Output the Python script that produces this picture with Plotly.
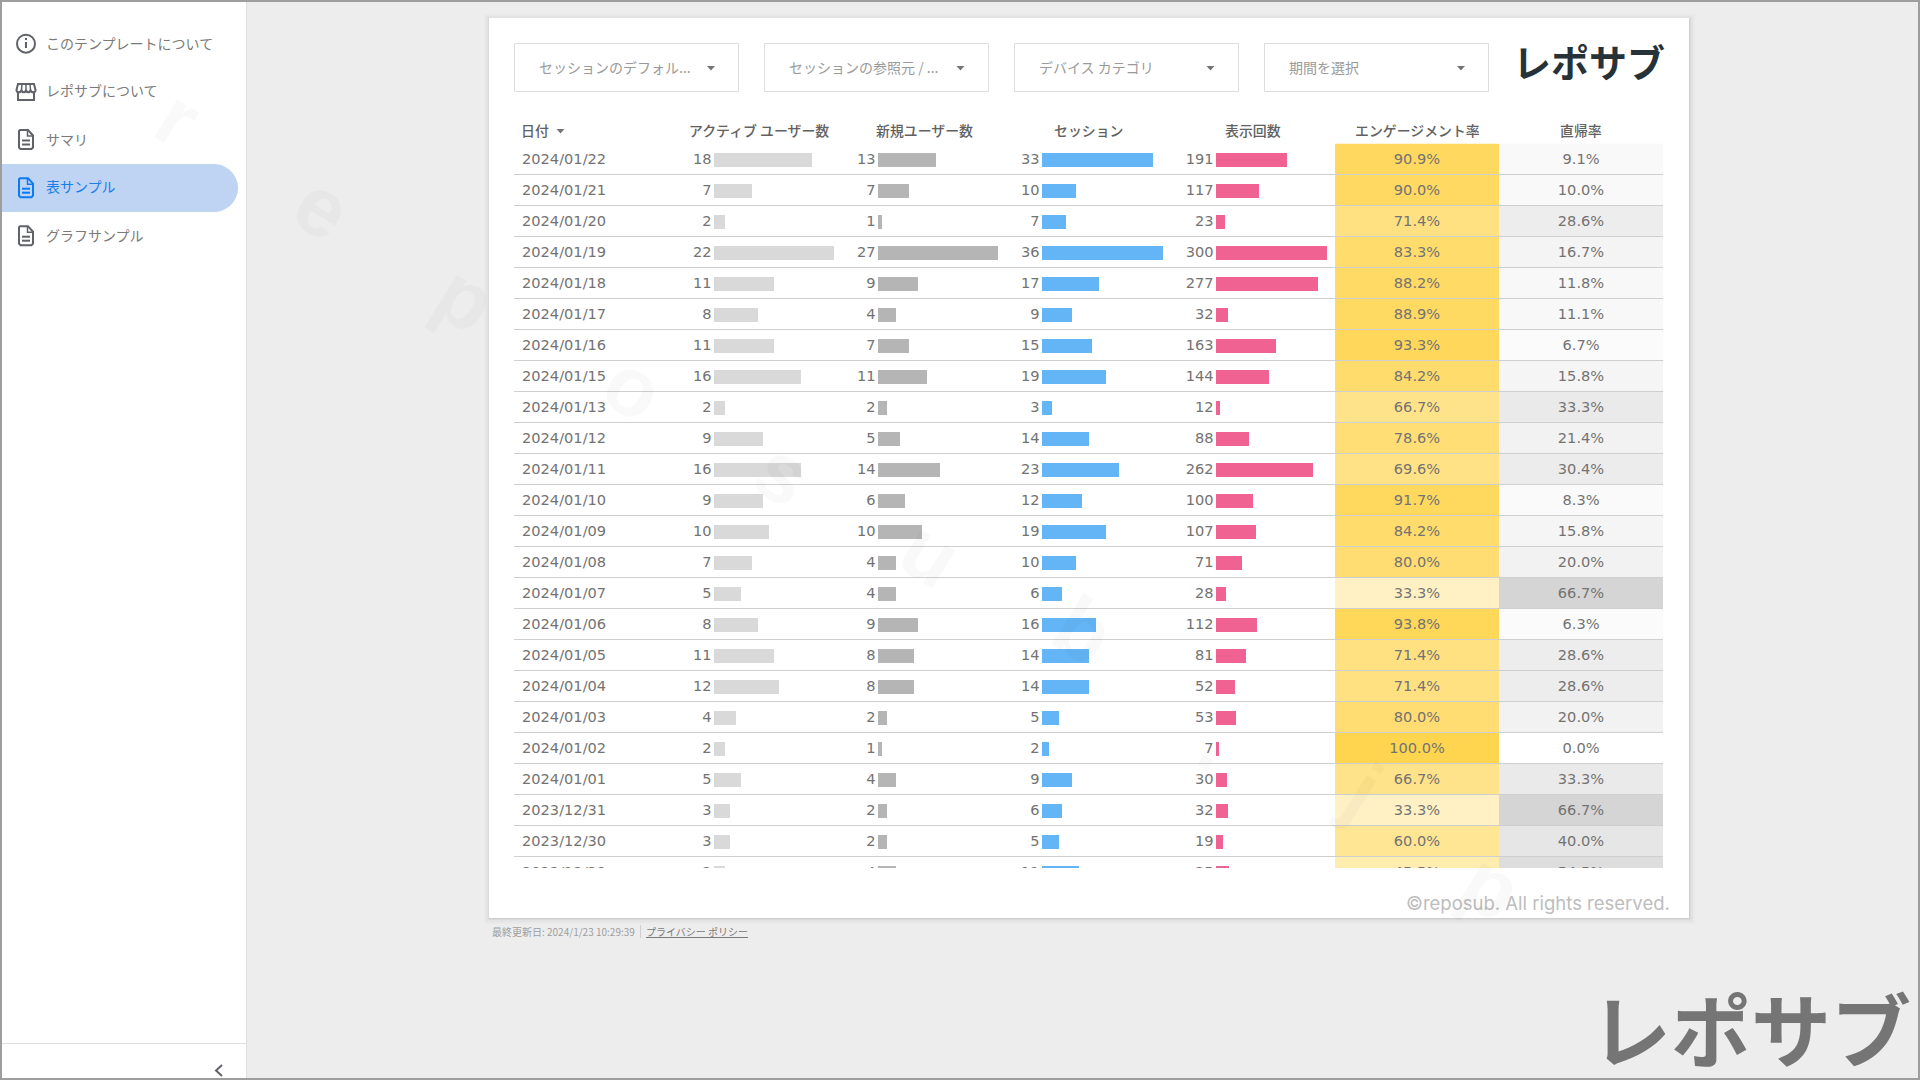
import plotly.graph_objects as go

dates = ['2024/01/22', '2024/01/21', '2024/01/20', '2024/01/19', '2024/01/18', '2024/01/17',
         '2024/01/16', '2024/01/15', '2024/01/13', '2024/01/12', '2024/01/11', '2024/01/10',
         '2024/01/09', '2024/01/08', '2024/01/07', '2024/01/06', '2024/01/05', '2024/01/04',
         '2024/01/03', '2024/01/02', '2024/01/01', '2023/12/31', '2023/12/30', '2023/12/29']
active_users = [18, 7, 2, 22, 11, 8, 11, 16, 2, 9, 16, 9, 10, 7, 5, 8, 11, 12, 4, 2, 5, 3, 3, 2]
new_users = [13, 7, 1, 27, 9, 4, 7, 11, 2, 5, 14, 6, 10, 4, 4, 9, 8, 8, 2, 1, 4, 2, 2, 4]
sessions = [33, 10, 7, 36, 17, 9, 15, 19, 3, 14, 23, 12, 19, 10, 6, 16, 14, 14, 5, 2, 9, 6, 5, 11]
views = [191, 117, 23, 300, 277, 32, 163, 144, 12, 88, 262, 100, 107, 71, 28, 112, 81, 52, 53, 7, 30, 32, 19, 35]
engagement = [90.9, 90.0, 71.4, 83.3, 88.2, 88.9, 93.3, 84.2, 66.7, 78.6, 69.6, 91.7,
              84.2, 80.0, 33.3, 93.8, 71.4, 71.4, 80.0, 100.0, 66.7, 33.3, 60.0, 45.5]
bounce = [9.1, 10.0, 28.6, 16.7, 11.8, 11.1, 6.7, 15.8, 33.3, 21.4, 30.4, 8.3,
          15.8, 20.0, 66.7, 6.3, 28.6, 28.6, 20.0, 0.0, 33.3, 66.7, 40.0, 54.5]

headers = ['日付', 'アクティブ ユーザー数', '新規ユーザー数', 'セッション', '表示回数', 'エンゲージメント率', '直帰率']
menu_items = ['このテンプレートについて', 'レポサブについて', 'サマリ', '表サンプル', 'グラフサンプル']
filters = ['セッションのデフォル...', 'セッションの参照元 / ...', 'デバイス カテゴリ', '期間を選択']

W, H = 1920, 1080
JP = 'Noto Sans CJK JP'
NUM = 'DejaVu Sans'
TXT = '#737373'


def fx(x):
    return x / W


def fy(y):
    return 1 - y / H


def px_path(d):
    # "M 10 20 L 30 40" in screen pixels -> paper coordinates
    out, is_x = [], True
    for tok in d.split():
        if tok.isalpha():
            out.append(tok)
        else:
            v = float(tok)
            out.append(f'{fx(v):.5f}' if is_x else f'{fy(v):.5f}')
            is_x = not is_x
    return ' '.join(out)


shapes = []
annotations = []


def rect(x0, y0, x1, y1, fill='rgba(0,0,0,0)', line=None, width=1, layer='below'):
    shapes.append(dict(type='rect', xref='paper', yref='paper', x0=fx(x0), x1=fx(x1), y0=fy(y1), y1=fy(y0),
                       fillcolor=fill, line=dict(color=line or 'rgba(0,0,0,0)', width=width if line else 0),
                       layer=layer))


def path(d, fill='rgba(0,0,0,0)', line=None, width=2):
    shapes.append(dict(type='path', xref='paper', yref='paper', path=px_path(d), fillcolor=fill,
                       line=dict(color=line or 'rgba(0,0,0,0)', width=width if line else 0), layer='below'))


def label(x, y, text, size=14, color=TXT, anchor='left', family=JP, angle=0, weight=None):
    font = dict(family=family, size=size, color=color)
    if weight:
        font['weight'] = weight
    annotations.append(dict(xref='paper', yref='paper', x=fx(x), y=fy(y), text=text, showarrow=False,
                            xanchor=anchor, yanchor='middle', font=font, textangle=angle,
                            borderpad=0, borderwidth=0))


def caret(cx, cy, color='#757575'):
    path(f'M {cx - 4} {cy - 2} L {cx + 4} {cy - 2} L {cx} {cy + 2.5} Z', fill=color)


def doc_icon(cy, color):
    t, b = cy - 9.5, cy + 9.5
    path(f'M 20 {t} L 28 {t} L 33 {t + 5.5} L 33 {b - 1.5} L 31.5 {b} L 20.5 {b} L 19 {b - 1.5} L 19 {t + 1} Z',
         line=color)
    path(f'M 27.5 {t} L 27.5 {t + 6} L 33 {t + 6}', line=color, width=1.5)
    path(f'M 22 {cy + 1} L 30 {cy + 1}', line=color)
    path(f'M 22 {cy + 5} L 30 {cy + 5}', line=color)


# page chrome
rect(0, 0, W, H, fill='#EDEDED')
rect(2, 2, 246, 1078, fill='#FFFFFF')
rect(246, 2, 247, 1078, fill='#E0E0E0')
rect(2, 1043, 246, 1044, fill='#E0E0E0')
path('M 222 1065 L 216 1070.5 L 222 1076', line='#5F6368', width=2)
rect(0, 0, W, 2, fill='#9E9E9E')
rect(0, 1078, W, H, fill='#9E9E9E')
rect(0, 0, 2, H, fill='#9E9E9E')
rect(1918, 0, W, H, fill='#9E9E9E')

# sidebar
path('M 2 164 L 214 164 C 227 164 238 175 238 188 C 238 201 227 212 214 212 L 2 212 Z', fill='#BFD3F2')
menu_y = [42.5, 90.5, 138.5, 186.5, 234.5]
for name, y in zip(menu_items, menu_y):
    label(46, y, name, size=14, color='#1A7FEA' if name == '表サンプル' else '#7A7A7A')
ICON = '#5F6368'
shapes.append(dict(type='circle', xref='paper', yref='paper', x0=fx(17), x1=fx(35), y0=fy(52.7), y1=fy(34.7),
                   line=dict(color=ICON, width=2), fillcolor='rgba(0,0,0,0)', layer='below'))
rect(25, 42, 27, 48, fill=ICON)
rect(25, 38, 27, 40, fill=ICON)
path('M 18 84 L 34 84 L 35.5 90 C 35.5 93 31 93 30.5 90 C 30 93 26.5 93 26 90 C 25.5 93 22 93 21.5 90 '
     'C 21 93 16.5 93 16.5 90 Z', line=ICON)
path('M 18 92 L 18 100 L 34 100 L 34 92', line=ICON)
path('M 22 84 L 21.5 90', line=ICON, width=1.5)
path('M 26 84 L 26 90', line=ICON, width=1.5)
path('M 30 84 L 30.5 90', line=ICON, width=1.5)
doc_icon(139.5, ICON)
doc_icon(187.7, '#0A7BF5')
doc_icon(235.7, ICON)

# report card with a soft shadow
for grow, alpha in [(6, 0.015), (4, 0.025), (2, 0.04), (1, 0.05)]:
    rect(489 - grow + 1, 18 - grow + 2, 1689 + grow, 918 + grow, fill=f'rgba(0,0,0,{alpha})')
rect(489, 18, 1689, 918, fill='#FFFFFF')

# filter boxes
box_x = [514.5, 764.5, 1014.5, 1264.5]
text_x = [539, 789, 1039, 1289]
caret_x = [711, 960.5, 1210.5, 1461]
for i, name in enumerate(filters):
    rect(box_x[i], 43.5, box_x[i] + 224, 91.5, line='#DDDDDD', width=1)
    label(text_x[i], 66.5, name, size=14, color='#9A9A9A')
    caret(caret_x[i], 68)

label(1589, 61, 'レポサブ', size=38, color='#263238', anchor='center', weight=700)
label(1751, 1026, 'レポサブ', size=80, color='#757575', anchor='center', weight=700)

# header row
header_x = [521, 759, 924, 1088, 1252.5, 1417, 1581]
for i, name in enumerate(headers):
    label(header_x[i], 130, name, size=13.9, color='#616161', anchor='left' if i == 0 else 'center', weight=500)
caret(560.5, 131)

label(1670, 903, '©reposub. All rights reserved.', size=18.5, color='#BDBDBD', anchor='right', family='Inter')
label(492, 931, '最終更新日: 2024/1/23 10:29:39', size=10, color='#9E9E9E')
rect(640, 925, 641, 938, fill='#CFCFCF')
label(646, 931, '<u>プライバシー ポリシー</u>', size=10, color='#7A7A7A')

# table: 31px rows, first row centre at y=159, clipped at y=868
ROW = 31
y_top, y_bottom = 143.5, 868
y_range = [(y_bottom - 159) / ROW, (y_top - 159) / ROW]
table_domain = [fy(y_bottom), fy(y_top)]
shift = 1 / ROW  # cell text sits 1px lower than the bars

fig = go.Figure()
layout_axes = dict(yaxis=dict(domain=table_domain, range=y_range, type='category', categoryorder='array',
                              categoryarray=dates, visible=False, fixedrange=True),
                   yaxis2=dict(domain=table_domain, range=[y_range[0] - shift, y_range[1] - shift], type='category',
                               categoryorder='array', categoryarray=dates, visible=False, fixedrange=True,
                               anchor='x'))


def add_axis(n, x0, x1, rng):
    layout_axes[f'xaxis{n}' if n > 1 else 'xaxis'] = dict(domain=[fx(x0), fx(x1)], range=rng, visible=False,
                                                          anchor='y', fixedrange=True)
    return 'x' if n == 1 else f'x{n}'


def text_trace(xaxis, xs, texts, position):
    fig.add_trace(go.Scatter(x=xs, y=dates, mode='text', text=texts, textposition=position, xaxis=xaxis, yaxis='y2',
                             cliponaxis=True, showlegend=False, hoverinfo='skip',
                             textfont=dict(family=NUM, size=14.6, color=TXT)))


# date column
ax = add_axis(1, 522, 640, [0, 118])
text_trace(ax, [0] * len(dates), dates, 'middle right')

# bar columns: (values, bar start px, px per unit, colour)
bar_cols = [(active_users, 714, 120 / 22, '#D9D9D9'),
            (new_users, 878, 120 / 27, '#B5B5B5'),
            (sessions, 1042, 121 / 36, '#64B5F6'),
            (views, 1216, 111 / 300, '#F06292')]
n = 2
for values, start, scale, color in bar_cols:
    left, right = start - 50, start + 125
    ax = add_axis(n, left, right, [(left - start) / scale, (right - start) / scale])
    fig.add_trace(go.Bar(x=values, y=dates, orientation='h', width=14 / ROW, marker=dict(color=color, line_width=0),
                         xaxis=ax, yaxis='y', showlegend=False, hoverinfo='skip'))
    # number ends 3px left of where the bar starts
    text_trace(ax, [-2.5 / scale] * len(dates), [str(v) for v in values], 'middle left')
    n += 1

# heat columns
heat_cols = [(engagement, 1335, 1499, [[0, '#FFFFFF'], [1, '#FFD54F']]),
             (bounce, 1499, 1663, [[0, '#FFFFFF'], [1, '#C0C0C0']])]
for values, x0, x1, scale in heat_cols:
    ax = add_axis(n, x0, x1, [-0.5, 0.5])
    fig.add_trace(go.Heatmap(z=[[v] for v in values], x=[0], y=dates, zmin=0, zmax=100, colorscale=scale,
                             showscale=False, xaxis=ax, yaxis='y', hoverinfo='skip'))
    text_trace(ax, [0] * len(dates), [f'{v:.1f}%' for v in values], 'middle center')
    n += 1

# row separators sit on the table's own y axis
for i in range(len(dates) - 1):
    shapes.append(dict(type='line', xref='paper', yref='y', x0=fx(514), x1=fx(1663), y0=i + 0.5, y1=i + 0.5,
                       line=dict(color='#CFCFCF', width=1.2), layer='above'))

# faint diagonal watermark over everything
wm_letters = ['r', 'e', 'p', 'o', 's', 'u', 'b', '.', 'j', 'p']
wm_x = [178, 322, 465, 633, 783, 930, 1083, 1217, 1362, 1491]
wm_y = [118, 207, 298, 387, 473, 553, 630, 743, 790, 886]
for c, x, y in zip(wm_letters, wm_x, wm_y):
    label(x, y, c, size=84, color='rgba(0,0,0,0.025)', anchor='center', family='Liberation Sans', angle=32,
          weight=700)

fig.update_layout(width=W, height=H, margin=dict(l=0, r=0, t=0, b=0, pad=0), paper_bgcolor='#EDEDED',
                  plot_bgcolor='rgba(0,0,0,0)', showlegend=False, bargap=0, shapes=shapes, annotations=annotations,
                  font=dict(family=JP), **layout_axes)

fig.write_html('out.html', config=dict(displayModeBar=False),
               post_script="document.body.style.margin='0';document.body.style.overflow='hidden';")
